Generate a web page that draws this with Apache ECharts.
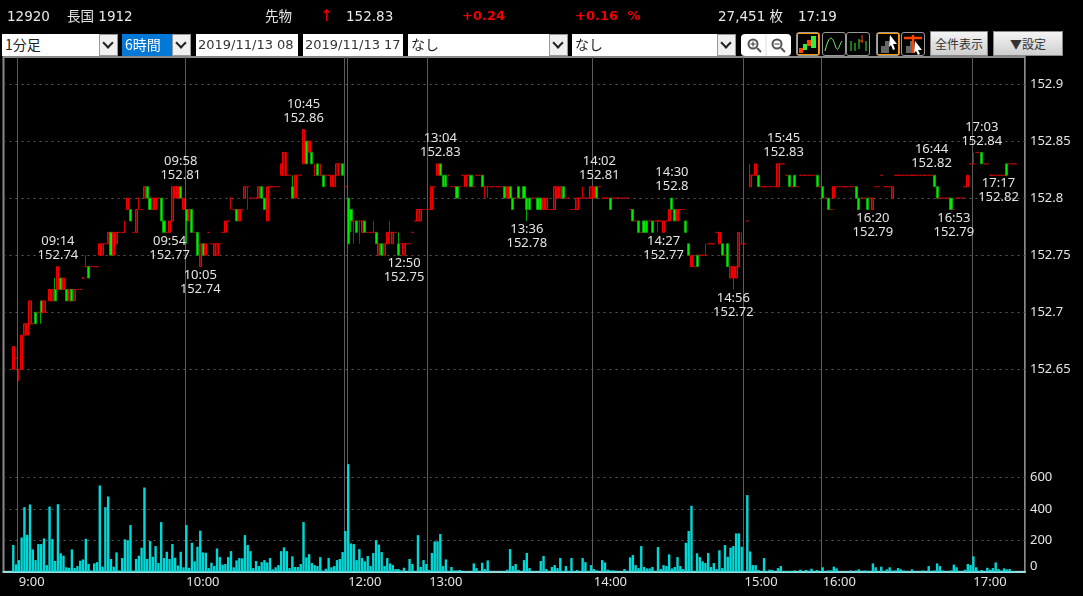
<!DOCTYPE html>
<html><head><meta charset="utf-8">
<script src="https://cdn.jsdelivr.net/npm/echarts@6/dist/echarts.min.js"></script>
<style>
html,body{margin:0;padding:0;background:#000;width:1083px;height:596px;overflow:hidden}
#c{position:absolute;left:0;top:0;width:1083px;height:596px}
.t{position:absolute;top:7px;font:13.5px/18px "DejaVu Sans","Noto Sans CJK JP",sans-serif;color:#e8e8e8;white-space:nowrap;z-index:2}
.r{color:#f00000;font-weight:bold;font-size:13px}
.b{position:absolute;top:34px;height:22px;background:#fff;color:#222;font:14px/21px "Noto Sans CJK JP","DejaVu Sans",sans-serif;white-space:nowrap;overflow:hidden;box-sizing:border-box;padding-left:3px;z-index:2}
.a{position:absolute;top:34px;height:22px;background:#f0f0f0;border:1px solid #999;box-sizing:border-box;z-index:2}
.a:after{content:"";position:absolute;left:4px;top:4px;width:6px;height:6px;border-right:2px solid #222;border-bottom:2px solid #222;transform:rotate(45deg)}
.g{position:absolute;top:31px;height:25px;box-sizing:border-box;background:linear-gradient(#f4f4f4,#cfcfcf);border:1px solid #888;color:#333;text-align:center;font:12px/23px "Noto Sans CJK JP",sans-serif;z-index:2}
.i{position:absolute;top:32px;width:24px;height:24px;box-sizing:border-box;border:1px solid #999;border-radius:3px;background:#000;z-index:2}
.i svg{display:block}
</style></head><body>
<div id="c"></div>
<div class="t" style="left:7px">12920</div>
<div class="t" style="left:67px">長国 1912</div>
<div class="t" style="left:265px">先物</div>
<div class="t" style="left:320px;color:#f00000;font-size:16px">↑</div>
<div class="t" style="left:346px">152.83</div>
<div class="t r" style="left:462px">+0.24</div>
<div class="t r" style="left:575px;word-spacing:5px">+0.16 %</div>
<div class="t" style="left:718px">27,451 枚</div>
<div class="t" style="left:798px">17:19</div>
<div class="b" style="left:2px;width:97px">1分足</div><div class="a" style="left:99px;width:19px"></div>
<div class="b" style="left:122px;width:50px;background:#0078d7;color:#fff">6時間</div><div class="a" style="left:172px;width:19px"></div>
<div class="b" style="left:196px;width:102px;font-family:'DejaVu Sans';font-size:13px;color:#333;padding-left:2px">2019/11/13 08</div>
<div class="b" style="left:303px;width:100px;font-family:'DejaVu Sans';font-size:13px;color:#333;padding-left:2px">2019/11/13 17</div>
<div class="b" style="left:408px;width:141px">なし</div><div class="a" style="left:549px;width:19px"></div>
<div class="b" style="left:572px;width:145px">なし</div><div class="a" style="left:717px;width:19px"></div>
<div class="b" style="left:741px;width:50px;border-radius:4px;padding:0"><svg width="50" height="22"><g fill="none" stroke="#555" stroke-width="2"><circle cx="12" cy="10" r="4.5"/><line x1="16" y1="14" x2="20" y2="18"/><circle cx="36" cy="10" r="4.5"/><line x1="40" y1="14" x2="44" y2="18"/></g><line x1="25" y1="0" x2="25" y2="22" stroke="#ddd"/><path d="M9.5 10h5M12 7.5v5M33.5 10h5" stroke="#333"/></svg></div>
<div class="i" style="left:796px"><svg width="22" height="22"><rect width="22" height="22" fill="none" stroke="#f90" stroke-width="2"/><path d="M2 15h4v5H2z" fill="#f40"/><path d="M6 11h4v6H6zM14 3h5v12h-5z" fill="#3e3"/><path d="M10 7h4v6h-4z" fill="#f40"/></svg></div>
<div class="i" style="left:822px"><svg width="22" height="22"><path d="M2 18 C6 2 9 2 12 12 S16 12 19 8" fill="none" stroke="#7e7"/></svg></div>
<div class="i" style="left:846px"><svg width="22" height="22"><path d="M4 8v10M8 10v8M12 6v10M19 8v10" stroke="#3e3"/><path d="M15 2v8M12 8h4" stroke="#f40"/></svg></div>
<div class="i" style="left:876px"><svg width="22" height="22"><rect width="22" height="22" fill="none" stroke="#f90" stroke-width="2"/><path d="M4 20V13h4V8h4v12z" fill="#666"/><path d="M13 2l7 9h-4l2 5-2 1-2-5-2 2z" fill="#fff"/></svg></div>
<div class="i" style="left:901px"><svg width="22" height="22"><path d="M4 20V13h4V8h4v12z" fill="#666"/><path d="M2 5h18M11 2v18" stroke="#f40" stroke-width="2.5"/><path d="M13 8l7 9h-4l2 4-2 1-2-4-2 2z" fill="#fff"/></svg></div>
<div class="g" style="left:930px;width:58px">全件表示</div>
<div class="g" style="left:993px;width:70px">▼設定</div>
<script>
// Prices are hundredths above 152 (65 = 152.65)
const opens=[65,66,65,65,68,68,69,69,70,70,
71,70,70,71,71,72,72,73,72,72,
71,72,71,72,72,73,74,74,74,74,
74,75,75,76,76,77,75,76,77,77,
77,79,79,77,77,80,79,80,81,80,
79,79,80,80,78,77,77,78,80,80,
81,79,79,78,79,77,77,74,76,75,
77,76,75,75,76,77,77,78,80,79,
79,78,79,80,81,80,80,80,80,81,
80,78,81,81,81,81,82,82,82,82,
81,80,82,82,83,85,84,84,82,83,
82,82,82,82,81,81,82,83,83,81,
80,79,78,78,78,77,78,77,77,77,
77,75,76,75,76,77,76,77,76,76,
75,76,76,77,78,78,78,79,79,79,
79,81,82,83,82,82,82,81,81,81,
81,82,81,82,82,81,82,82,82,81,
81,81,81,81,81,81,81,80,81,80,
80,81,80,81,80,80,80,80,80,80,
79,79,79,79,79,80,80,81,80,80,
79,79,79,80,80,80,80,80,80,81,
81,80,80,80,80,80,80,80,80,80,
80,79,79,78,78,77,78,78,78,78,
78,78,78,77,78,78,80,79,78,79,
79,78,76,74,74,75,75,75,75,76,
76,76,77,76,76,75,76,73,73,73,
74,76,76,78,81,82,82,82,81,81,
81,81,81,81,81,83,83,82,82,81,
82,81,82,82,82,82,82,82,82,81,
81,80,80,79,80,81,81,81,81,81,
81,81,81,80,80,80,80,80,79,81,
81,82,81,81,81,80,82,82,82,82,
82,82,82,82,82,82,82,82,82,82,
82,81,80,80,80,80,80,79,80,80,
80,81,81,83,83,84,84,84,83,83,
82,82,82,82,82,82,83,83,83,83];
const closes=[67,66,65,68,69,69,71,69,69,70,
70,71,70,72,72,71,74,72,73,71,
72,71,72,72,72,73,74,73,74,74,
74,76,76,76,77,75,77,77,77,77,
77,80,78,77,79,80,79,81,80,79,
80,80,80,78,77,77,78,81,81,81,
80,80,78,79,77,77,75,76,75,76,
77,76,76,76,76,77,78,78,80,79,
78,79,79,81,81,80,80,80,81,80,
79,81,81,81,81,81,83,84,82,82,
80,82,82,82,86,83,85,83,82,82,
82,81,82,82,82,82,83,83,82,81,
76,78,78,77,78,78,77,77,77,77,
76,76,75,76,77,77,77,77,75,76,
76,76,76,77,78,79,79,79,79,79,
81,81,83,82,81,81,82,81,81,80,
81,82,82,82,81,81,82,82,81,81,
81,81,81,81,81,81,80,81,80,79,
80,80,80,80,79,79,80,80,79,79,
80,80,79,79,81,81,81,80,80,80,
79,79,80,80,80,80,80,81,81,80,
81,80,80,80,79,80,80,80,80,80,
80,79,78,78,77,77,77,77,78,77,
78,78,78,78,78,79,79,78,79,79,
79,77,75,75,74,74,75,75,75,76,
76,76,77,77,75,75,74,74,74,74,
77,76,76,78,82,82,83,81,81,81,
81,81,81,81,83,83,83,82,81,81,
81,81,82,82,82,82,82,82,81,81,
80,80,79,79,81,81,81,81,81,81,
81,81,80,79,80,80,79,80,80,81,
81,82,81,81,81,81,82,82,82,82,
82,82,82,82,82,82,82,82,82,82,
81,80,80,80,80,80,79,79,80,80,
80,81,82,83,83,84,84,83,83,83,
82,82,82,82,82,82,82,83,83,83];
// Wicks that reach past the body: [bar number, price]
const lowWicks=[[2,64],[10,69],[45,79],[62,76],[78,79],[84,79],[121,77],[122,76],[124,76],[135,76],[169,80],[170,80],[184,78],[231,77],[258,72]];
const highWicks=[[15,73],[26,75],[40,78],[98,84],[100,82],[108,83],[110,83],[129,78],[135,78],[138,77],[204,81],[248,76],[261,77],[264,83],[344,84]];
const volumes=[170,47,74,218,411,235,428,142,74,176,
176,212,42,415,208,68,430,117,102,28,
25,142,23,36,70,78,210,49,8,53,
61,549,32,411,479,81,32,123,8,87,
206,201,297,6,81,102,153,536,81,195,
95,163,55,316,87,127,81,176,89,40,
127,28,297,25,184,66,159,261,123,121,
23,57,36,148,93,45,49,93,131,28,
72,87,85,233,170,131,23,68,36,61,
74,59,
87,15,28,42,131,155,131,23,98,30,
30,49,316,91,112,55,42,36,93,6,
19,87,28,36,74,81,125,259,685,180,
176,74,144,87,66,100,36,119,201,172,
125,36,87,53,42,17,17,8,25,2,
81,49,2,233,30,74,49,11,119,193,
193,240,36,78,4,30,8,8,11,2,
4,2,2,53,23,2,57,17,72,2,
2,2,2,2,2,13,144,36,49,11,
2,74,119,23,2,2,2,
68,100,17,2,30,42,23,87,4,36,
4,87,4,11,2,87,61,2,42,17,
8,2,74,59,13,8,8,6,2,2,
17,2,91,106,42,23,163,30,21,21,
30,2,157,17,42,36,110,21,30,93,
36,17,184,259,420,2,117,93,66,55,
119,30,55,17,136,23,170,95,153,163,
244,244,159,2,488,129,42,42,11,2,
87,4,13,11,2,23,36,4,4,4,
4,8,2,13,2,11,6,
19,2,11,2,28,2,8,8,32,21,
2,2,2,2,8,2,8,15,2,8,
6,2,53,28,2,32,2,15,28,6,
8,23,15,8,2,2,15,2,2,2,
8,2,36,2,8,53,36,8,2,2,
8,45,28,2,2,13,49,42,98,28,
6,11,2,25,13,23,59,17,8,21,
15,17,2,2];
// Runs of consecutive minutes on the time axis: [first minute, number of bars]
const timeRuns=[['8:55',65],['10:00',42],['10:45',15],['11:00',1],['12:30',29],['13:00',5],['13:06',54],['14:00',25],['14:27',8],['14:39',21],['15:00',3],['15:31',11],['15:45',14],['16:00',18],['16:20',21],['16:44',7],['16:52',8],['17:00',8],['17:16',11]];
const hourBars=['9:00','10:00','11:00','12:30','13:00','14:00','15:00','16:00','17:00'];
const hourTexts=['9:00','10:00','','12:00','13:00','14:00','15:00','16:00','17:00'];
const noteTimes=['09:14','09:58','10:45','13:04','14:02','14:30','15:45','16:44','17:03','09:54','10:05','12:50','13:36','14:27','14:56','16:20','16:53','17:17'];
const noteValues=['152.74','152.81','152.86','152.83','152.81','152.8','152.83','152.82','152.84','152.77','152.74','152.75','152.78','152.77','152.72','152.79','152.79','152.82'];
const noteSides=['top','top','top','top','top','top','top','top','top','bottom','bottom','bottom','bottom','bottom','bottom','bottom','bottom','bottom'];

const categories=[];
timeRuns.forEach(([s,n])=>{const [h,m]=s.split(':').map(Number);
  for(let k=0;k<n;k++){const t=h*60+m+k;categories.push(Math.floor(t/60)+':'+String(t%60).padStart(2,'0'));}});
const LEAD=3,TRAIL=3,pad=a=>[...Array(LEAD).fill('-'),...a,...Array(TRAIL).fill('-')];
const px=v=>152+v/100;
const lowMap=new Map(lowWicks),highMap=new Map(highWicks);
const candles=opens.map((o,i)=>{const c=closes[i];
  return [px(o),px(c),px(lowMap.has(i)?lowMap.get(i):Math.min(o,c)),px(highMap.has(i)?highMap.get(i):Math.max(o,c))];});
const tickSet=new Set(hourBars);
const FONT='"Noto Sans","Noto Sans CJK JP",sans-serif',TXT='#e4e4e4';
const L=3.5,R=58;
const hidden={show:false};
const chart=echarts.init(document.getElementById('c'),null,{renderer:'canvas'});
chart.setOption({
  animation:false,backgroundColor:'#000',
  grid:[
    {left:L,right:R,top:57,height:514.7,show:true,borderColor:'#8a8a8a',borderWidth:2,backgroundColor:'#000'},
    {left:L,right:R,top:83.9,height:342.6},
    {left:L,right:R,top:446.1,height:125.6}
  ],
  xAxis:[
    {gridIndex:0,type:'category',data:categories,boundaryGap:true,
     axisLine:{show:true,lineStyle:{color:'#9fdede',width:2}},axisTick:hidden,
     splitLine:{show:true,interval:(i,v)=>tickSet.has(v),lineStyle:{color:'#5c5c5c',width:1}},
     axisLabel:{interval:(i,v)=>tickSet.has(v)&&v!=='11:00',formatter:v=>hourTexts[hourBars.indexOf(v)],
       align:'left',margin:4,color:TXT,fontSize:13,fontFamily:FONT,hideOverlap:false}},
    {gridIndex:1,type:'category',data:categories,show:false},
    {gridIndex:2,type:'category',data:categories,show:false}
  ],
  yAxis:[
    {gridIndex:0,type:'value',min:0,max:1,show:false,splitLine:hidden},
    {gridIndex:1,type:'value',min:152.6,max:152.9,interval:0.05,position:'right',scale:true,
     axisLine:hidden,axisTick:hidden,
     axisLabel:{showMinLabel:false,margin:5,color:TXT,fontSize:13,fontFamily:FONT,formatter:v=>String(parseFloat(v.toFixed(2)))},
     splitLine:{show:true,showMinLine:false,lineStyle:{color:'#5a5a5a',type:[2,4]}}},
    {gridIndex:2,type:'value',min:0,max:800,interval:200,position:'right',
     axisLine:hidden,axisTick:hidden,
     axisLabel:{showMaxLabel:false,margin:5,color:TXT,fontSize:13,lineHeight:10,fontFamily:FONT,verticalAlignMinLabel:'bottom'},
     splitLine:{show:true,showMaxLine:false,showMinLine:false,lineStyle:{color:'#5a5a5a',type:[2,4]}}}
  ],
  series:[
    {type:'candlestick',xAxisIndex:1,yAxisIndex:1,data:pad(candles),barWidth:2.6,
     itemStyle:{color:'#8a0000',color0:'#00ee00',borderColor:'#f00000',borderColor0:'#00a800',borderColorDoji:'#d00000',borderWidth:1},
     markPoint:{symbol:'circle',symbolSize:1,itemStyle:{color:'transparent'},silent:true,
       data:noteTimes.map((t,i)=>({coord:[t.replace(/^0/,''),parseFloat(noteValues[i])],
         label:{show:true,position:noteSides[i],distance:noteSides[i]==='top'?4:1,formatter:t+'\n'+noteValues[i],
           color:TXT,fontSize:13,lineHeight:14,fontFamily:FONT,align:'center',opacity:1}}))}},
    {type:'bar',xAxisIndex:2,yAxisIndex:2,data:pad(volumes),barWidth:2.4,itemStyle:{color:'#00d8d8'}}
  ]
});
</script>
</body></html>
